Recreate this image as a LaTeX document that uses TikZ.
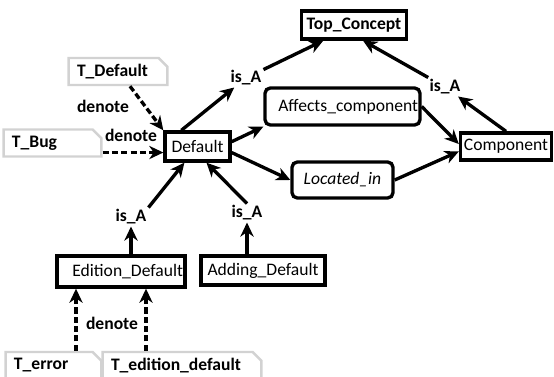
\documentclass[tikz,border=0pt]{standalone}
\usepackage{fontspec}
\setmainfont{Carlito}
\usetikzlibrary{arrows.meta}
\usetikzlibrary{shapes.misc}

\begin{document}
\begin{tikzpicture}[
  box/.style={draw,line width=1.9pt,inner sep=0pt},
  rbox/.style={box,rounded corners=3pt},
  rightbox/.style={box,inner xsep=0.04cm,text width=#1,align=right},
  term/.style={draw=gray!35,line width=1.4pt,chamfered rectangle,chamfered rectangle corners=north east,
    chamfered rectangle xsep=2.5pt,chamfered rectangle ysep=2.5pt,inner xsep=0.08cm,inner ysep=0pt,
    minimum height=0.54cm,text width=#1,align=left,font=\bfseries},
  rel/.style={font=\bfseries,inner sep=1pt},
  isa/.style={line width=1.9pt,-{Stealth[length=8pt,width=7.5pt,inset=2.5pt]}},
  den/.style={isa,dash pattern=on 3.5pt off 1.8pt}]
 \useasboundingbox (0,0) rectangle (11.08,7.52);

 % concepts
 \node[box,font=\bfseries,minimum width=2.1cm,minimum height=0.56cm] (TopConcept) at (7.08,7.02) {Top\_Concept};
 \node[rbox,inner xsep=0.04cm,text width=3.02cm,align=right,minimum height=0.74cm] (Affects) at (6.85,5.39) {Affects\_component};
 \node[rbox,font=\itshape,minimum width=2.02cm,minimum height=0.72cm] (Located) at (6.85,3.92) {Located\_in};
 \node[box,minimum width=1.82cm,minimum height=0.54cm] (Component) at (10.12,4.59) {Component};
 \node[box,minimum width=1.3cm,minimum height=0.58cm] (Default) at (3.95,4.59) {Default};
 \node[rightbox=2.48cm,minimum height=0.62cm] (Edition) at (2.42,2.09) {Edition\_Default};
 \node[box,minimum width=2.48cm,minimum height=0.58cm] (Adding) at (5.26,2.11) {Adding\_Default};

 % terms
 \node[term=1.64cm] (TDefault) at (2.36,6.09) {T\_Default};
 \node[term=1.62cm] (TBug) at (1.05,4.66) {T\_Bug};
 \node[term=1.58cm] (TError) at (1.07,0.21) {T\_error};
 \node[term=2.84cm] (TEdition) at (3.64,0.21) {T\_edition\_default};

 % relation labels
 \node[rel] (isA1) at (4.92,5.96) {is\_A};
 \node[rel] (isA2) at (8.90,5.78) {is\_A};
 \node[rel] (isA3) at (2.62,3.18) {is\_A};
 \node[rel] (isA4) at (4.94,3.26) {is\_A};
 \node[rel] (den1) at (2.06,5.40) {denote};
 \node[rel] (den2) at (2.62,4.82) {denote};
 \node[rel] (den3) at (2.24,1.06) {denote};

 \draw[isa] (Default.135) -- (isA1);
 \draw[isa] (isA1) -- (TopConcept.207);
 \draw[isa] (Component.north) -- (isA2);
 \draw[isa] (isA2) -- (TopConcept.300);
 \draw[isa] (Default.8) -- (Affects.south west);
 \draw[isa] (Default.350) -- (Located.west);
 \draw[isa] (Affects.east) -- (Component.177);
 \draw[isa] (Located.east) -- (Component.186);
 \draw[isa] (Edition.north -| isA3) -- (isA3);
 \draw[isa] (isA3.north east) -- (Default.231);
 \draw[isa] (Adding.north -| isA4) -- (isA4);
 \draw[isa] (isA4.north) -- (Default.299);

 \draw[den] ([xshift=0.24cm]TDefault.south) -- (Default.north west);
 \draw[den] (TBug.east |- Default.190) -- (Default.190);
 \draw[den] ([xshift=0.45cm]TError.north) -- ([xshift=0.45cm]TError.north |- Edition.south);
 \draw[den] ([xshift=-0.72cm]TEdition.north) -- ([xshift=-0.72cm]TEdition.north |- Edition.south);
\end{tikzpicture}
\end{document}
